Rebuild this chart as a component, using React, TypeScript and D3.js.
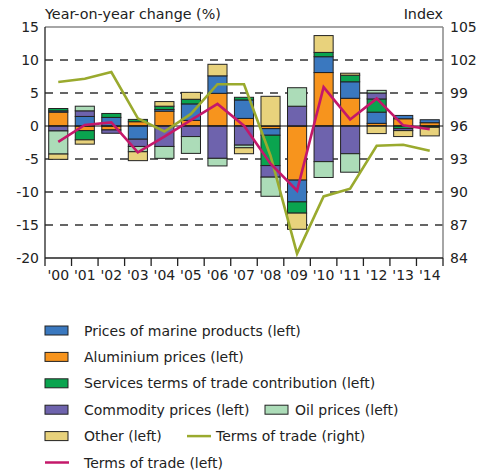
import * as d3 from 'd3';

const years = ["'00", "'01", "'02", "'03", "'04", "'05", "'06", "'07", "'08", "'09", "'10", "'11", "'12", "'13", "'14"];

// contributions, percentage points (left axis)
const aluminium = [2.1, -0.7, -0.6, 0.65, 2.25, 0.85, 4.95, 1.15, -0.4, -8.2, 8.1, 4.2, 0.4, 1.1, 0.5];
const marine = [0.2, 1.45, 1.3, -2.0, 0.25, 2.5, 2.65, 2.8, -1.0, -3.3, 2.4, 2.5, 1.7, 0.5, 0.45];
const services = [0.35, -1.4, 0.6, 0.35, 0.5, 0.7, 0, 0.4, -4.6, -1.7, 0.65, 1.0, 2.0, -0.4, -0.2];
const commodity = [-0.75, 0.85, -0.5, -1.1, -3.1, -1.6, -4.9, -2.9, -1.75, 3.0, -5.4, -4.2, 0.9, -0.3, 0];
const oil = [-3.5, 0.7, 0, -0.8, -1.8, -2.55, -1.15, -0.4, -2.9, 2.8, -2.4, -2.8, 0.4, 0, 0];
const other = [-0.8, -0.65, 0, -1.35, 0.7, 1.05, 1.75, -0.9, 4.5, -2.45, 2.55, 0.3, -1.15, -0.9, -1.3];

const totLeft = [-2.4, 0.15, 0.55, -4.0, -1.6, 0.9, 3.35, 0.05, -5.7, -9.8, 5.9, 1.0, 4.15, 0.1, -0.5];
const totRight = [100.0, 100.3, 100.9, 96.7, 95.5, 97.1, 99.8, 99.8, 93.3, 84.4, 89.6, 90.3, 94.2, 94.3, 93.75];

const leftTicks = [15, 10, 5, 0, -5, -10, -15, -20];
const rightTicks = [105, 102, 99, 96, 93, 90, 87, 84];

const series = [
  { key: 'aluminium', values: aluminium, color: '#f7941d', label: 'Aluminium prices (left)' },
  { key: 'marine', values: marine, color: '#3a78bf', label: 'Prices of marine products (left)' },
  { key: 'services', values: services, color: '#0aa44f', label: 'Services terms of trade contribution (left)' },
  { key: 'commodity', values: commodity, color: '#6e63ad', label: 'Commodity prices (left)' },
  { key: 'oil', values: oil, color: '#acdcb8', label: 'Oil prices (left)' },
  { key: 'other', values: other, color: '#e8d27c', label: 'Other (left)' },
];

const RIGHT_COLOR = '#9aaa2e';
const LEFT_COLOR = '#c4186a';
const FONT = '"DejaVu Sans", sans-serif';

export default function App() {
  const left = 45, right = 443, top = 27, bottom = 258;
  const x = d3.scaleBand<string>().domain(years).range([left, right]).paddingInner(0.28).paddingOuter(0.14);
  const yL = d3.scaleLinear().domain([-20, 15]).range([bottom, top]);
  const yR = d3.scaleLinear().domain([84, 105]).range([bottom, top]);

  const rows = years.map((y, i) => {
    const r: Record<string, number | string> = { year: y };
    series.forEach((s) => (r[s.key] = s.values[i]));
    return r;
  });
  const stacked = d3
    .stack<Record<string, number | string>>()
    .keys(series.map((s) => s.key))
    .offset(d3.stackOffsetDiverging)(rows as any);

  const cx = (i: number) => (x(years[i]) ?? 0) + x.bandwidth() / 2;
  const lineL = d3.line<number>().x((_, i) => cx(i)).y((d) => yL(d))(totLeft) ?? '';
  const lineR = d3.line<number>().x((_, i) => cx(i)).y((d) => yR(d))(totRight) ?? '';

  const step = x.step();
  const boundaries = d3.range(years.length + 1).map((i) => left + i * step);

  const legendRow = (i: number) => 330.5 + i * 26.4;
  const swatch = (xx: number, cy: number, color: string) => (
    <rect x={xx} y={cy - 4.5} width={23} height={9} fill={color} stroke="#222" strokeWidth={1} />
  );
  const lineSwatch = (xx: number, cy: number, color: string) => (
    <line x1={xx} x2={xx + 24} y1={cy} y2={cy} stroke={color} strokeWidth={2.5} />
  );
  const byKey = (k: string) => series.find((s) => s.key === k)!;

  return (
    <svg width={492} height={475} style={{ position: 'absolute', left: 0, top: 0 }} fontFamily={FONT}>
      <rect width={492} height={475} fill="#fff" />
      <text x={left} y={19} fontSize={14.3} fill="#222">Year-on-year change (%)</text>
      <text x={right} y={19} fontSize={14.3} fill="#222" textAnchor="end">Index</text>

      {/* gridlines */}
      {leftTicks.filter((t) => t !== 15 && t !== 0 && t !== -20).map((t) => (
        <line key={t} x1={left} x2={right} y1={yL(t)} y2={yL(t)} stroke="#333" strokeWidth={1.3} strokeDasharray="8 7" />
      ))}

      {/* bars */}
      {stacked.map((layer, li) => (
        <g key={layer.key} fill={series[li].color}>
          {layer.map((d, i) =>
            d[1] - d[0] === 0 ? null : (
              <rect
                key={i}
                x={x(years[i])}
                width={x.bandwidth()}
                y={yL(Math.max(d[0], d[1]))}
                height={Math.abs(yL(d[0]) - yL(d[1]))}
                stroke="#222"
                strokeWidth={1}
              />
            )
          )}
        </g>
      ))}

      {/* frame */}
      <line x1={left} x2={right} y1={top} y2={top} stroke="#888" strokeWidth={1.5} />
      <line x1={right} x2={right} y1={top} y2={bottom} stroke="#888" strokeWidth={1.5} />
      <line x1={left} x2={left} y1={top} y2={bottom} stroke="#222" strokeWidth={1.3} />
      <line x1={left} x2={right} y1={bottom} y2={bottom} stroke="#222" strokeWidth={1.3} />
      <line x1={left} x2={right} y1={yL(0)} y2={yL(0)} stroke="#111" strokeWidth={1.2} />
      {boundaries.map((b, i) => (
        <line key={i} x1={b} x2={b} y1={bottom} y2={bottom + 8} stroke="#222" strokeWidth={1.3} />
      ))}

      {/* lines */}
      <path d={lineR} fill="none" stroke={RIGHT_COLOR} strokeWidth={2.6} />
      <path d={lineL} fill="none" stroke={LEFT_COLOR} strokeWidth={2.6} />

      {/* axis labels */}
      {leftTicks.map((t) => (
        <text key={t} x={39} y={yL(t) + 5} fontSize={14} textAnchor="end" fill="#222">{t}</text>
      ))}
      {rightTicks.map((t) => (
        <text key={t} x={450} y={yR(t) + 5} fontSize={14} fill="#222">{t}</text>
      ))}
      {years.map((y, i) => (
        <text key={y} x={cx(i)} y={280} fontSize={14} textAnchor="middle" fill="#222">{y}</text>
      ))}

      {/* legend */}
      <g fontSize={14} fill="#222">
        {swatch(45, legendRow(0), byKey('marine').color)}
        <text x={84} y={legendRow(0) + 5}>{byKey('marine').label}</text>
        {swatch(45, legendRow(1), byKey('aluminium').color)}
        <text x={84} y={legendRow(1) + 5}>{byKey('aluminium').label}</text>
        {swatch(45, legendRow(2), byKey('services').color)}
        <text x={84} y={legendRow(2) + 5}>{byKey('services').label}</text>
        {swatch(45, legendRow(3), byKey('commodity').color)}
        <text x={84} y={legendRow(3) + 5}>{byKey('commodity').label}</text>
        {swatch(265, legendRow(3), byKey('oil').color)}
        <text x={295} y={legendRow(3) + 5}>{byKey('oil').label}</text>
        {swatch(45, legendRow(4), byKey('other').color)}
        <text x={84} y={legendRow(4) + 5}>{byKey('other').label}</text>
        {lineSwatch(187, legendRow(4), RIGHT_COLOR)}
        <text x={216} y={legendRow(4) + 5}>Terms of trade (right)</text>
        {lineSwatch(45, legendRow(5), LEFT_COLOR)}
        <text x={84} y={legendRow(5) + 5}>Terms of trade (left)</text>
      </g>
    </svg>
  );
}
